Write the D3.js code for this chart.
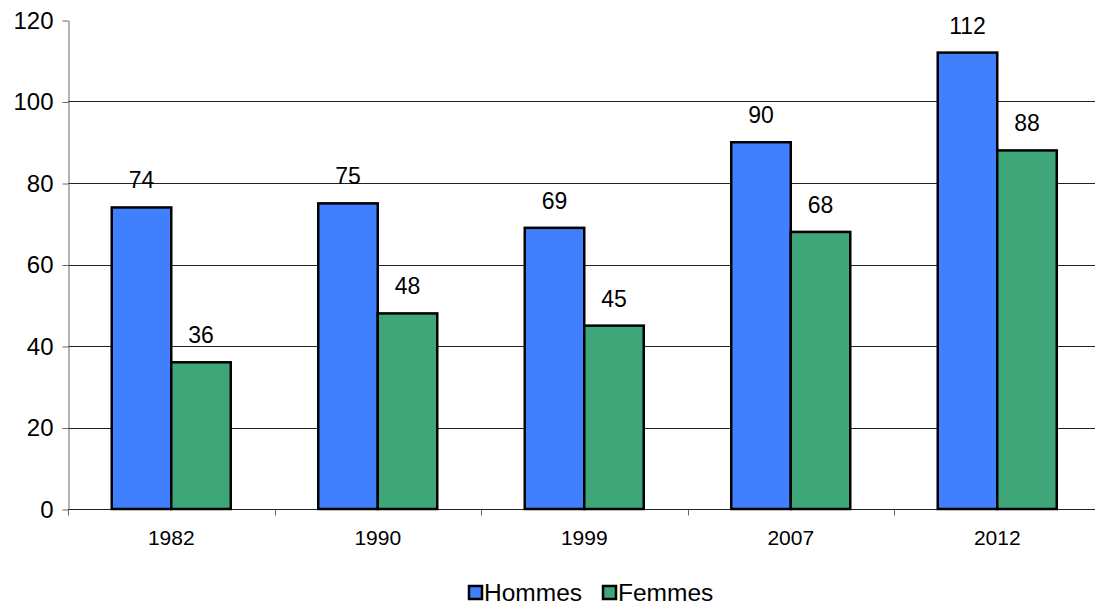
<!DOCTYPE html>
<html>
<head>
<meta charset="utf-8">
<script src="https://cdn.jsdelivr.net/npm/d3@7"></script>
<style>
  body { margin: 0; background: #fff; }
  svg { display: block; font-family: "Liberation Sans", Arial, sans-serif; }
</style>
</head>
<body>
<svg id="vis" width="1095" height="605"></svg>
<script>
// data
var years = ["1982", "1990", "1999", "2007", "2012"];
var hommes = [74, 75, 69, 90, 112];
var femmes = [36, 48, 45, 68, 88];
var seriesNames = ["Hommes", "Femmes"];
var colors = ["#4080ff", "#3fa67a"];
var yTicks = [0, 20, 40, 60, 80, 100, 120];

var MARGINS = {top: 20, left: 68, bottom: 509, right: 1100.5};
var display = d3.select("#vis");

// scales
var x = d3.scaleBand()
    .domain(years)
    .range([MARGINS.left, MARGINS.right]);
var inner = d3.scaleBand()
    .domain(seriesNames)
    .range([0, x.bandwidth()])
    .paddingOuter(0.735);
var y = d3.scaleLinear()
    .domain([0, 120])
    .range([MARGINS.bottom, MARGINS.top]);

// gridlines
display.append("g")
    .selectAll("line")
    .data(yTicks.slice(1, -1))
    .enter().append("line")
    .attr("x1", MARGINS.left)
    .attr("x2", 1095)
    .attr("y1", d => Math.round(y(d)) + 0.5)
    .attr("y2", d => Math.round(y(d)) + 0.5)
    .attr("stroke", "#222")
    .attr("stroke-width", 1);

// y axis
var yAxis = display.append("g")
    .attr("transform", `translate(${MARGINS.left + 0.5},0.5)`)
    .call(d3.axisLeft(y).tickValues(yTicks).tickSizeInner(6).tickSizeOuter(0).tickPadding(9));
yAxis.select(".domain").attr("stroke", "#666");
yAxis.selectAll(".tick line").attr("stroke", "#666");
yAxis.selectAll(".tick text")
    .attr("fill", "#000")
    .style("font-size", "24px")
    .style("font-family", "Liberation Sans, Arial, sans-serif");

// x axis (ticks at group boundaries)
var xg = display.append("g")
    .attr("transform", `translate(0,${MARGINS.bottom + 0.5})`);
xg.append("line")
    .attr("x1", MARGINS.left).attr("x2", 1095)
    .attr("stroke", "#222");
xg.selectAll("line.tk")
    .data(years)
    .enter().append("line")
    .attr("class", "tk")
    .attr("x1", d => Math.round(x(d)) + 0.5)
    .attr("x2", d => Math.round(x(d)) + 0.5)
    .attr("y1", 0).attr("y2", 6)
    .attr("stroke", "#666");
xg.selectAll("text")
    .data(years)
    .enter().append("text")
    .attr("x", d => x(d) + x.bandwidth() / 2)
    .attr("y", 35)
    .attr("text-anchor", "middle")
    .style("font-size", "21px")
    .text(d => d);

// bars
var groups = display.selectAll("g.serie")
    .data([hommes, femmes])
    .enter().append("g")
    .attr("class", "serie")
    .attr("fill", (d, i) => colors[i]);

groups.selectAll("rect")
    .data((d, i) => d.map((v, j) => ({v: v, year: years[j], s: seriesNames[i]})))
    .enter().append("rect")
    .attr("x", d => x(d.year) + inner(d.s))
    .attr("y", d => y(d.v))
    .attr("width", inner.bandwidth())
    .attr("height", d => y(0) - y(d.v))
    .attr("stroke", "#000")
    .attr("stroke-width", 2.5);

// value labels
groups.selectAll("text")
    .data((d, i) => d.map((v, j) => ({v: v, year: years[j], s: seriesNames[i]})))
    .enter().append("text")
    .attr("x", d => x(d.year) + inner(d.s) + inner.bandwidth() / 2)
    .attr("y", d => y(d.v) - 19)
    .attr("text-anchor", "middle")
    .attr("fill", "#000")
    .style("font-size", "23px")
    .text(d => d.v);

// legend
var legendX = [468, 602];
var legend = display.selectAll(".legend")
    .data(seriesNames)
    .enter().append("g")
    .attr("class", "legend")
    .attr("transform", (d, i) => `translate(${legendX[i]},585)`);
legend.append("rect")
    .attr("x", 1).attr("y", 1)
    .attr("width", 13).attr("height", 13)
    .attr("fill", (d, i) => colors[i])
    .attr("stroke", "#000")
    .attr("stroke-width", 2.5);
legend.append("text")
    .attr("x", 16)
    .attr("y", 16)
    .style("font-size", "24.5px")
    .text(d => d);
</script>
</body>
</html>
